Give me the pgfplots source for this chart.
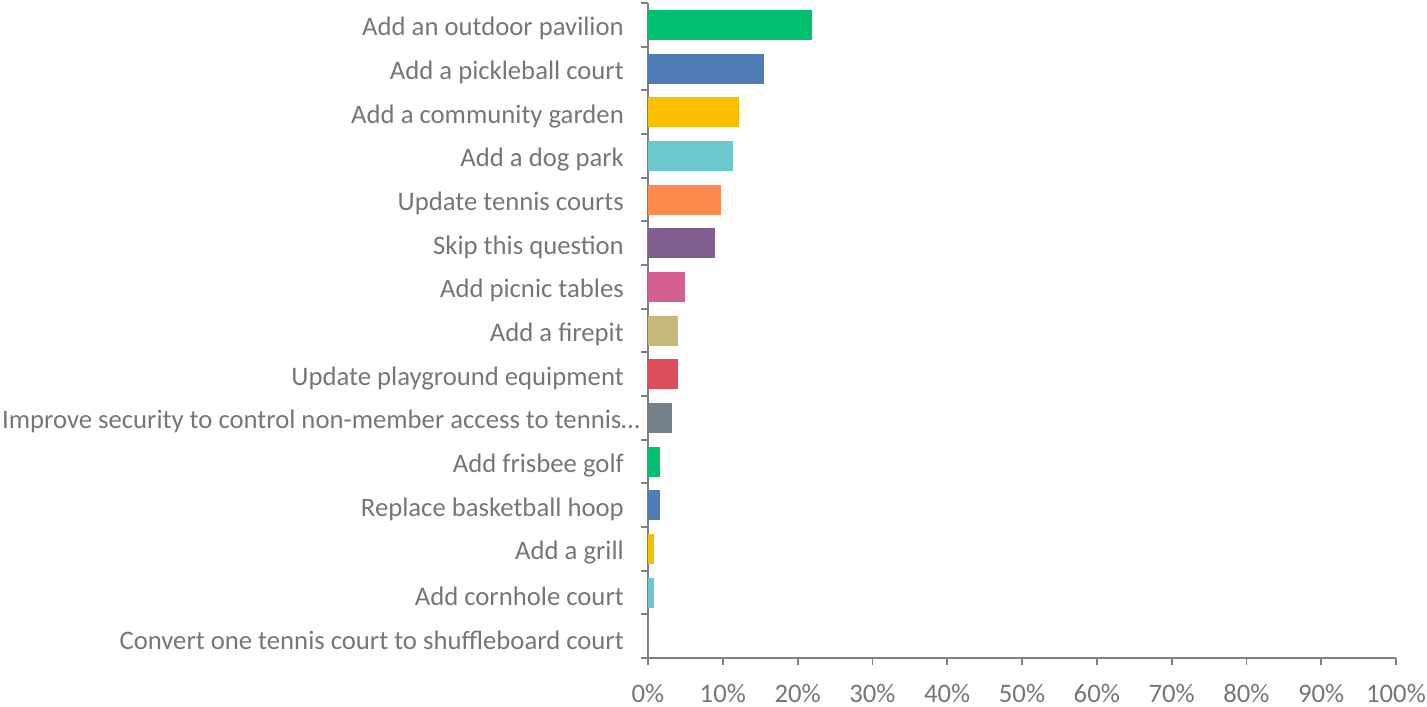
\documentclass[border=0pt]{standalone}
\usepackage{pgfplots}
\pgfplotsset{compat=1.18}
\usepackage{fontspec}
\setmainfont{Carlito}
\definecolor{axgray}{HTML}{808080}
\definecolor{txtgray}{HTML}{767676}
\definecolor{c1}{HTML}{00BF6F}
\definecolor{c2}{HTML}{507CB6}
\definecolor{c3}{HTML}{F9BE00}
\definecolor{c4}{HTML}{6BC8CD}
\definecolor{c5}{HTML}{FF8B4F}
\definecolor{c6}{HTML}{7F5F90}
\definecolor{c7}{HTML}{D25F90}
\definecolor{c8}{HTML}{C7B879}
\definecolor{c9}{HTML}{DC4E5C}
\definecolor{c10}{HTML}{768089}
\begin{document}
\begin{tikzpicture}
\begin{axis}[
    at={(648bp,49bp)}, anchor=south west,
    scale only axis,
    width=748bp, height=655bp,
    xbar, bar shift=0pt, bar width=30bp,
    xmin=0, xmax=100,
    ymin=-0.5, ymax=14.5, y dir=reverse,
    axis x line*=bottom, axis y line*=left,
    axis line style={axgray, line width=2bp, -},
    xtick={0,10,...,100},
    xticklabel={\pgfmathprintnumber{\tick}\%},
    major x tick style={axgray, line width=1.8bp},
    x tick label style={yshift=-16bp},
    ytick={0,...,14},
    major y tick style={draw=none},
    minor ytick={-0.5,0.5,...,14.5},
    minor y tick style={axgray, line width=1.8bp},
    tick align=outside,
    major tick length=7bp, minor tick length=7bp,
    yticklabels={
        Add an outdoor pavilion,
        Add a pickleball court,
        Add a community garden,
        Add a dog park,
        Update tennis courts,
        Skip this question,
        Add picnic tables,
        Add a firepit,
        Update playground equipment,
        Improve security to control non-member access to tennis…\hspace*{-16bp},
        Add frisbee golf,
        Replace basketball hoop,
        Add a grill,
        Add cornhole court,
        Convert one tennis court to shuffleboard court},
    y tick label style={inner sep=0pt, xshift=-17bp, yshift=-4bp},
    ticklabel style={font=\fontsize{26.8}{31}\selectfont, text=txtgray},
    /pgf/number format/assume math mode=true,
    every axis plot/.append style={draw=none},
]
\addplot[fill=c1] coordinates {(21.95,0)};
\addplot[fill=c2] coordinates {(15.45,1)};
\addplot[fill=c3] coordinates {(12.20,2)};
\addplot[fill=c4] coordinates {(11.38,3)};
\addplot[fill=c5] coordinates {(9.76,4)};
\addplot[fill=c6] coordinates {(8.94,5)};
\addplot[fill=c7] coordinates {(4.88,6)};
\addplot[fill=c8] coordinates {(4.07,7)};
\addplot[fill=c9] coordinates {(4.07,8)};
\addplot[fill=c10] coordinates {(3.25,9)};
\addplot[fill=c1] coordinates {(1.63,10)};
\addplot[fill=c2] coordinates {(1.63,11)};
\addplot[fill=c3] coordinates {(0.81,12)};
\addplot[fill=c4] coordinates {(0.81,13)};
\addplot[fill=c5] coordinates {(0,14)};
\end{axis}
\pgfresetboundingbox
\useasboundingbox (0,0) rectangle (1427bp,707bp);
\end{tikzpicture}
\end{document}
